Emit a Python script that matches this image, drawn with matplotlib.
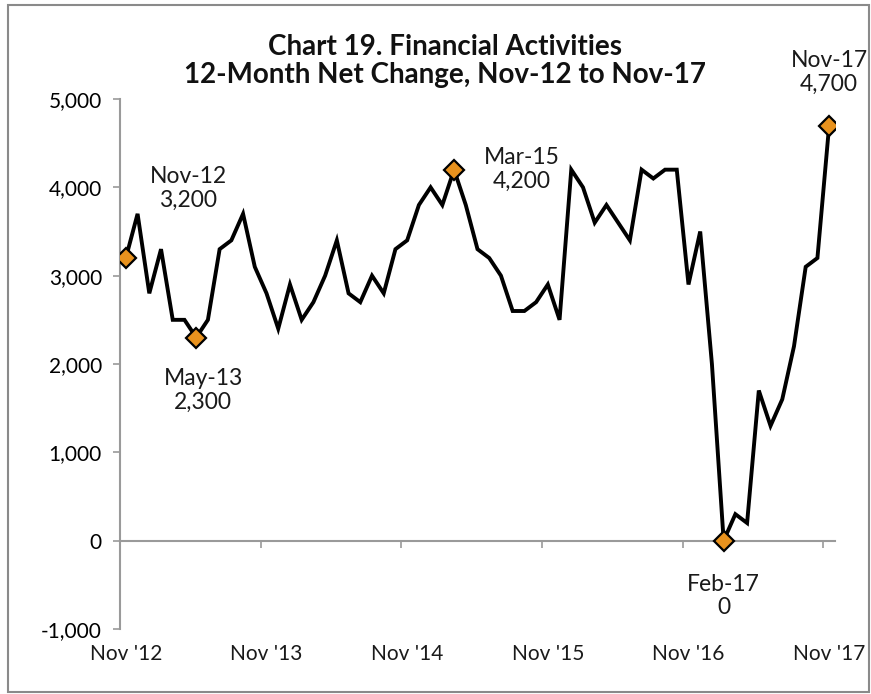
import matplotlib.pyplot as plt
from matplotlib.patches import Rectangle
from matplotlib.ticker import FuncFormatter
import numpy as np

plt.rcParams['font.family'] = ['Lato', 'DejaVu Sans']

# 12-month net change in financial activities jobs, Nov-12 .. Nov-17
net_change = [3200, 3700, 2800, 3300, 2500, 2500, 2300, 2500, 3300, 3400, 3700, 3100,
              2800, 2400, 2900, 2500, 2700, 3000, 3400, 2800, 2700, 3000, 2800, 3300,
              3400, 3800, 4000, 3800, 4200, 3800, 3300, 3200, 3000, 2600, 2600, 2700,
              2900, 2500, 4200, 4000, 3600, 3800, 3600, 3400, 4200, 4100, 4200, 4200,
              2900, 3500, 2000, 0, 300, 200, 1700, 1300, 1600, 2200, 3100, 3200,
              4700]
year_labels = ["Nov '12", "Nov '13", "Nov '14", "Nov '15", "Nov '16", "Nov '17"]
year_idx = [0, 12, 24, 36, 48, 60]

# highlighted points: index, month label
callouts = [(0, "Nov-12"), (6, "May-13"), (28, "Mar-15"), (51, "Feb-17"), (60, "Nov-17")]
callout_offsets = [(45, 50), (5, -38), (49, 0), (0, -40), (0, 38)]

months = np.arange(len(net_change))
vals = np.array(net_change)

fig = plt.figure(figsize=(8.71, 6.94), dpi=100)
ax = fig.add_axes([120 / 871, 1 - 629 / 694, 715 / 871, 530 / 694])

ax.plot(months, vals, color='black', lw=2.8, solid_joinstyle='miter', zorder=3)
hi = [c[0] for c in callouts]
ax.plot(months[hi], vals[hi], ls='none', marker='D', ms=10, mfc='#E8921E',
        mec='black', mew=1.6, zorder=4)

for (i, name), (dx, dy) in zip(callouts, callout_offsets):
    ax.annotate(f"{name}\n{vals[i]:,}", (months[i], vals[i]), xytext=(dx, dy),
                textcoords='offset points', ha='center', va='center',
                fontsize=16.5, linespacing=1.15, color='#1a1a1a')

ax.set_xlim(-0.5, len(net_change) - 0.5)
ax.set_ylim(-1000, 5000)
ax.set_yticks(np.arange(-1000, 5001, 1000))
ax.yaxis.set_major_formatter(FuncFormatter(lambda v, p: f"{int(v):,}"))
ax.tick_params(axis='y', direction='out', length=5, width=1.2, color='#9a9a9a',
               labelsize=15, pad=8)

# category axis sits at zero, ticks between months, labels along the bottom
ax.spines['bottom'].set_position(('data', 0))
ax.set_xticks([i - 0.5 for i in year_idx[:-1]] + [59.5])
ax.set_xticklabels([])
ax.tick_params(axis='x', direction='out', length=5, width=1.2, color='#9a9a9a')
for i, lab in zip(year_idx, year_labels):
    ax.text(i, -1170, lab, ha='center', va='top', fontsize=15, color='#1a1a1a')

for s in ['top', 'right']:
    ax.spines[s].set_visible(False)
for s in ['left', 'bottom']:
    ax.spines[s].set_color('#9a9a9a')
    ax.spines[s].set_linewidth(1.5)

fig.text(445 / 871, 1 - 61 / 694, "Chart 19. Financial Activities\n12-Month Net Change, Nov-12 to Nov-17",
         ha='center', va='center', fontsize=20, fontweight='bold', linespacing=1.1,
         color='#111111')

fig.patches.append(Rectangle((8 / 871, 2 / 694), 861 / 871, 687 / 694, transform=fig.transFigure,
                             fill=False, edgecolor='#8a8a8a', lw=1.5))

fig.savefig('out.png', dpi=100)
